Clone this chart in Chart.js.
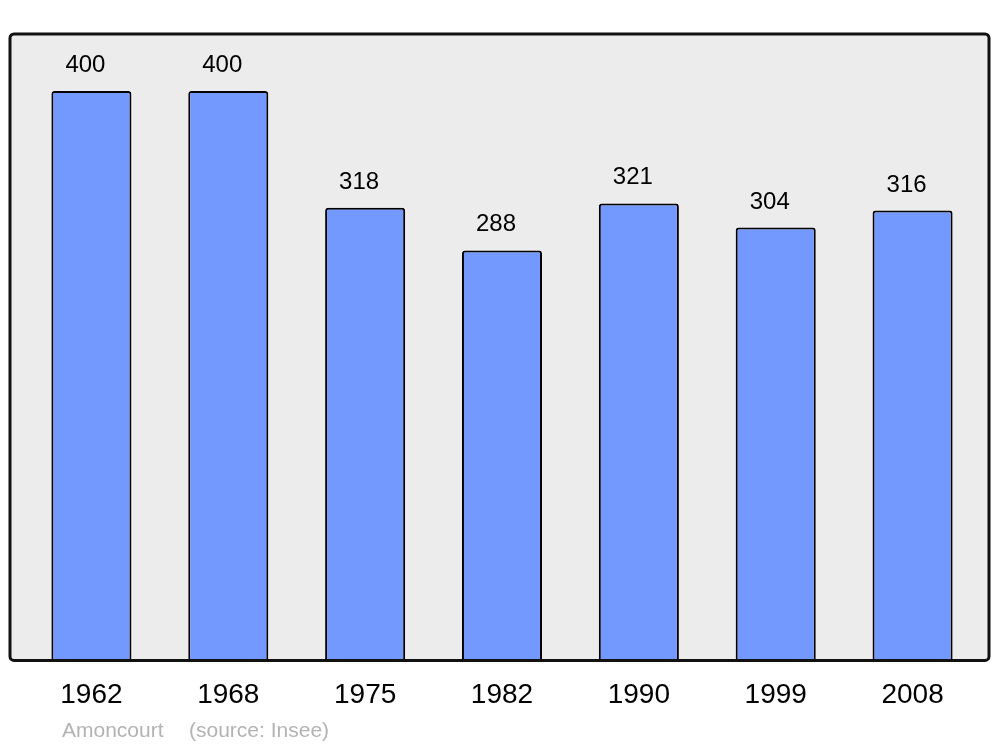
<!DOCTYPE html>
<html>
<head>
<meta charset="utf-8">
<script src="https://cdn.jsdelivr.net/npm/chart.js@4/dist/chart.umd.min.js"></script>
<style>
  html, body { margin: 0; padding: 0; background: #ffffff; }
  #wrap { width: 1000px; height: 747px; }
</style>
</head>
<body>
<div id="wrap"><canvas id="chart" width="1000" height="747"></canvas></div>
<script>
// DATA
var years = ['1962', '1968', '1975', '1982', '1990', '1999', '2008']
var population = [400, 400, 318, 288, 321, 304, 316]
var town = 'Amoncourt'
var source = '(source: Insee)'

// COLORS
var barBlue = '#7399ff'
var panelGrey = '#ececec'
var footerGrey = '#b3b3b3'
var font = "'Liberation Sans', Arial, sans-serif"

// grey panel with dark rounded border behind the bars
function panelPath (chart) {
  var a = chart.chartArea
  var x = a.left - 13, y = a.top, w = a.right + 8 - x, h = a.bottom - a.top
  chart.ctx.beginPath()
  chart.ctx.roundRect(x, y, w, h, 4)
}

var panel = {
  id: 'panel',
  beforeDatasetsDraw: function (chart) {
    var ctx = chart.ctx
    ctx.save()
    panelPath(chart)
    ctx.fillStyle = panelGrey
    ctx.fill()
    ctx.restore()
  },
  afterDatasetsDraw: function (chart) {
    var ctx = chart.ctx
    ctx.save()
    panelPath(chart)
    ctx.lineWidth = 3
    ctx.strokeStyle = '#111111'
    ctx.stroke()
    ctx.restore()
  }
}

// value above each bar + footer text
var labels = {
  id: 'labels',
  afterDraw: function (chart) {
    var ctx = chart.ctx
    var meta = chart.getDatasetMeta(0)
    ctx.save()
    ctx.fillStyle = '#000000'
    ctx.font = '24px ' + font
    ctx.textAlign = 'center'
    ctx.textBaseline = 'alphabetic'
    meta.data.forEach(function (bar, i) {
      ctx.fillText(String(population[i]), bar.x - 6, bar.y - 19)
    })
    ctx.fillStyle = footerGrey
    ctx.font = '21px ' + font
    ctx.textAlign = 'left'
    ctx.fillText(town, 62, 737)
    ctx.fillText(source, 189, 737)
    ctx.restore()
  }
}

new Chart(document.getElementById('chart'), {
  type: 'bar',
  data: {
    labels: years,
    datasets: [{
      data: population,
      backgroundColor: barBlue,
      borderColor: '#000000',
      borderWidth: 2,
      borderRadius: 3,
      borderSkipped: 'bottom',
      categoryPercentage: 1,
      barPercentage: 0.585
    }]
  },
  options: {
    responsive: false,
    animation: false,
    layout: { padding: { left: 23, right: 19, top: 34, bottom: 17 } },
    plugins: {
      legend: { display: false },
      tooltip: { enabled: false }
    },
    scales: {
      x: {
        grid: { display: false, drawTicks: false },
        border: { display: false },
        ticks: { color: '#000000', font: { family: font, size: 28 }, padding: 18 }
      },
      y: {
        display: false,
        min: 0,
        max: 440
      }
    }
  },
  plugins: [panel, labels]
})
</script>
</body>
</html>
